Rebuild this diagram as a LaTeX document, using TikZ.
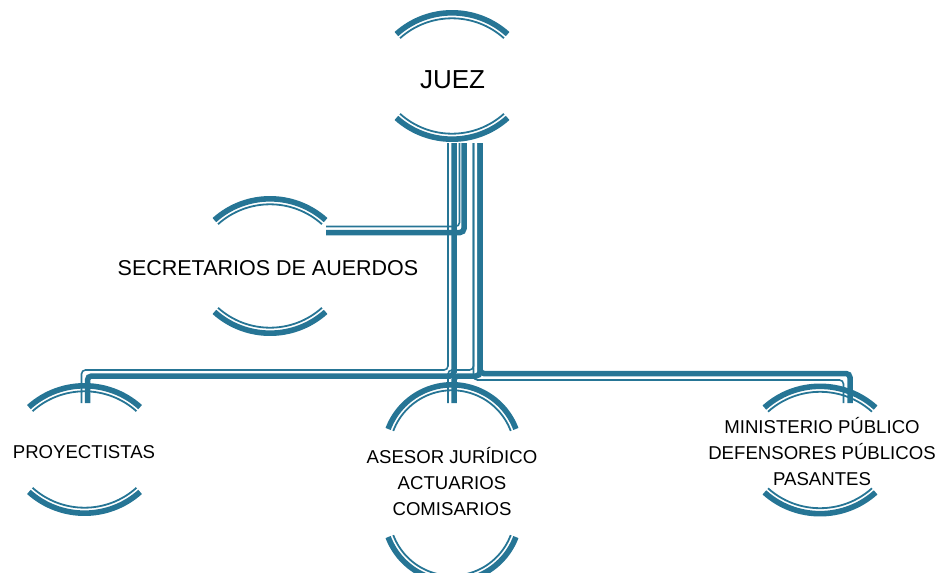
\documentclass[tikz,border=0pt]{standalone}
\usepackage{fontspec}
\setmainfont{Liberation Sans}
\definecolor{tealA}{RGB}{38,117,149}
% #1 cx, #2 cy (image, down), #3 half height, #4 radius, #5 half angle
\newcommand\unitarcs[5]{%
  \pgfmathsetmacro\tcy{-(#2-#3+#4)}%
  \pgfmathsetmacro\bcy{-(#2+#3-#4)}%
  \pgfmathsetmacro\rthk{#4-2.8}%
  \pgfmathsetmacro\rthn{#4-8.3}%
  \draw[arcthk] (#1,\tcy) ++(90-#5:\rthk) arc[start angle=90-#5, end angle=90+#5, radius=\rthk];
  \draw[arcthn] (#1,\tcy) ++(90-#5:\rthn) arc[start angle=90-#5, end angle=90+#5, radius=\rthn];
  \draw[arcthk] (#1,\bcy) ++(270-#5:\rthk) arc[start angle=270-#5, end angle=270+#5, radius=\rthk];
  \draw[arcthn] (#1,\bcy) ++(270-#5:\rthn) arc[start angle=270-#5, end angle=270+#5, radius=\rthn];
}
\begin{document}
\begin{tikzpicture}[x=1pt,y=1pt,
  arcthk/.style={draw=tealA, line width=5.6pt},
  arcthn/.style={draw=tealA, line width=1.8pt},
  conthk/.style={draw=tealA, line width=5.5pt, rounded corners=4pt},
  conthn/.style={draw=tealA, line width=1.6pt, rounded corners=4pt},
  lbl/.style={font=\fontsize{18.6}{26}\selectfont, align=center, text=black, inner sep=0pt}]
\useasboundingbox (0,0) rectangle (938,-573);

% labels
\node[lbl, font=\fontsize{26}{30}\selectfont] (juez) at (452.5,-79.5) {JUEZ};
\node[lbl, font=\fontsize{21.5}{26}\selectfont] (sec) at (268,-268.5) {SECRETARIOS DE AUERDOS};
\node[lbl] (proy) at (84,-452) {PROYECTISTAS};
\node[lbl] (ases) at (452,-482) {ASESOR JURÍDICO\\ACTUARIOS\\COMISARIOS};
\node[lbl] (mini) at (822,-452) {MINISTERIO PÚBLICO\\DEFENSORES PÚBLICOS\\PASANTES};

% connector end points
\coordinate (jA)  at (454,-143);  \coordinate (jAt) at (448,-143);
\coordinate (jB)  at (464,-143);  \coordinate (jBt) at (459.5,-143);
\coordinate (jC)  at (480,-143);  \coordinate (jCt) at (473.5,-143);
\coordinate (sIn)  at (326,-232.5); \coordinate (sInt) at (326,-226.5);
\coordinate (pIn)  at (87.5,-403);  \coordinate (pInt) at (81.5,-403);
\coordinate (aIn)  at (454,-403);   \coordinate (aInt) at (448,-403);
\coordinate (mIn)  at (850,-403);   \coordinate (mInt) at (843.5,-403);

% connectors
\draw[conthk] (jA) |- (87.5,-376) -- (pIn);
\draw[conthn] (jAt) |- (81.5,-370) -- (pInt);
\draw[conthk] (jC) |- (454,-376) -- (aIn);
\draw[conthn] (jCt) |- (448,-370) -- (aInt);
\draw[conthk] (jB) |- (sIn);
\draw[conthn] (jBt) |- (sInt);
\draw[conthk] (jC) |- (850,-373.5) -- (mIn);
\draw[conthn] (jCt) |- (843.5,-380) -- (mInt);

% arcs
\unitarcs{452}{76}{66}{86.1}{41.9}
\unitarcs{270}{266}{70}{86.1}{41.9}
\unitarcs{84.5}{449.5}{66.5}{86.1}{41.9}
\unitarcs{452}{483}{101}{71.1}{69.3}
\unitarcs{820}{450}{66.5}{86.1}{41.9}
\end{tikzpicture}
\end{document}
